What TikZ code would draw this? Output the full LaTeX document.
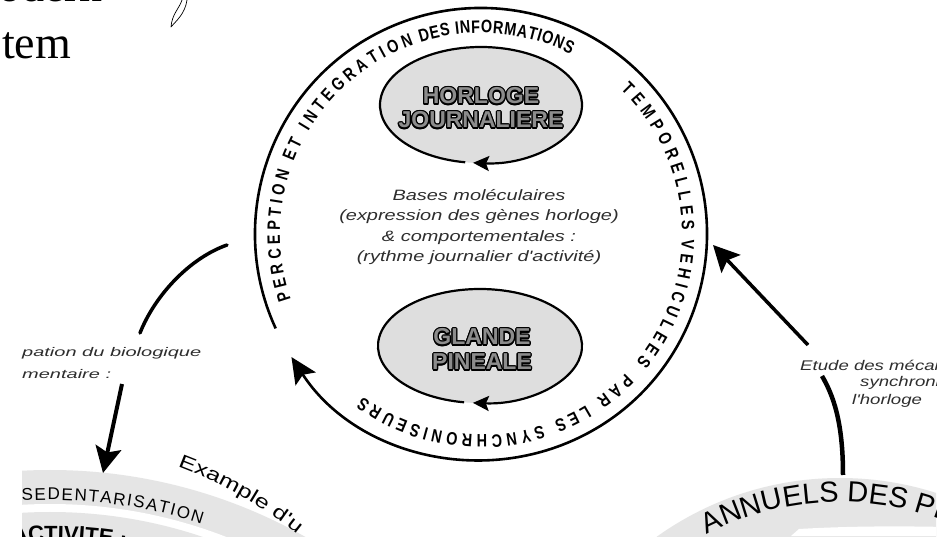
\documentclass[tikz,border=0pt]{standalone}
\usepackage{fontspec}
\setmainfont{Liberation Sans}
\newfontfamily\serifF{Liberation Serif}
\newfontfamily\ringF[FakeStretch=0.8]{Liberation Sans}
\newfontfamily\wideF[FakeStretch=1.33]{Liberation Sans}
\newfontfamily\lblF[FakeStretch=1.6]{Liberation Sans}
\usetikzlibrary{arrows.meta,decorations.text,shapes.geometric}

\definecolor{ellfill}{gray}{0.87}
\definecolor{bandfill}{gray}{0.9}
\definecolor{txtgray}{gray}{0.18}

\newcommand\ringfont{\ringF\bfseries\fontsize{18}{18}\selectfont}
\newcommand\arctext[6]{%
  \path[decorate,decoration={text along path,text align={fit to path},text={|#5|#6}}]
    ([shift={(#3:#2)}]#1) arc[start angle=#3,end angle=#4,radius=#2];}
\newcommand\arctextL[6]{%
  \path[decorate,decoration={text along path,text align={left},text={|#5|#6}}]
    ([shift={(#3:#2)}]#1) arc[start angle=#3,end angle=#4,radius=#2];}

\tikzset{
  ringline/.style={line width=2.6pt,draw=black},
  ellipseline/.style={line width=2.2pt,draw=black},
  smallarrow/.style={-{Stealth[length=16pt,width=15pt,inset=3pt]}},
  bigarrow/.style={line width=4pt,-{Stealth[length=26pt,width=26pt,inset=5pt]}},
  ellbox/.style={ellipse,fill=ellfill,inner sep=0pt},
  emboss/.style={font=\bfseries\fontsize{23}{23}\selectfont,inner sep=0pt},
  midtext/.style={font=\wideF\itshape\fontsize{15}{20.5}\selectfont,text=txtgray,align=center,inner sep=0pt},
  rlbl/.style={font=\wideF\itshape\fontsize{14}{14}\selectfont,text=txtgray,inner sep=0pt},
  lbl/.style={font=\lblF\itshape\fontsize{12.5}{12.5}\selectfont,text=txtgray,inner sep=0pt},
  serifbig/.style={font=\serifF\fontsize{46}{46}\selectfont,inner sep=0pt},
}

\newcommand\outlined[3]{%
  \foreach \ang in {0,30,...,330}{\node[emboss,text=black,shift={(\ang:1.3pt)}] (#1-\ang) at (#2) {#3};}
  \node[emboss,text=black!45] (#1) at (#2) {#3};}

\begin{document}
\begin{tikzpicture}[x=1pt,y=1pt]
\useasboundingbox (0,0) rectangle (946,536);
\fill[white] (0,0) rectangle (946,536);
\clip (0,0) rectangle (946,536);

\coordinate (C) at (481,302);
\coordinate (LB) at (50,-454);
\coordinate (EX) at (27,-333);
\coordinate (RB) at (840,-257);

% ---- lower left bands
\begin{scope}
  \clip (22,0) rectangle (420,536);
  \fill[bandfill] (LB) circle[radius=520];
  \fill[white] (LB) circle[radius=486];
  \fill[bandfill] (LB) circle[radius=478];
  \arctext{LB}{490}{93.3}{72}{\fontsize{17}{17}\selectfont}{SEDENTARISATION}
  \arctextL{LB}{449}{94.8}{70}{\bfseries\fontsize{22}{22}\selectfont}{ACTIVITE :}
\end{scope}
\arctextL{EX}{430}{69.5}{40}{\wideF\fontsize{19}{19}\selectfont}{Example d'u}

% ---- lower right band and right labels (figure cut at x = 936)
\begin{scope}
  \clip (0,0) rectangle (936,536);
  \fill[bandfill] (RB) circle[radius=315];
  \fill[white] (791,0) -- (799,7) .. controls (850,10) and (900,10) .. (946,9) -- (946,0) -- cycle;
  \arctextL{RB}{291}{117.2}{50}{\fontsize{29}{29}\selectfont}{ANNUELS DES PLANTES}
  \node[rlbl,anchor=base west] (etude1) at (800,165) {Etude des mécanismes};
  \node[rlbl,anchor=base west] (etude2) at (860,149) {synchronisation};
  \node[rlbl,anchor=base west] (etude3) at (852,131) {l'horloge};
\end{scope}

% ---- ellipses
\node[ellbox,minimum width=202pt,minimum height=116pt] (horloge) at (481,431) {};
\draw[ellipseline,smallarrow] ([shift={(261:101 and 58)}]horloge.center)
  arc[start angle=261,end angle=-94.5,x radius=101,y radius=58];
\outlined{horlogeA}{481,440}{HORLOGE}
\outlined{horlogeB}{481,416}{JOURNALIERE}

\node[ellbox,minimum width=204pt,minimum height=114pt] (glande) at (480,190) {};
\draw[ellipseline,smallarrow] ([shift={(261:102 and 57)}]glande.center)
  arc[start angle=261,end angle=-94,x radius=102,y radius=57];
\outlined{glandeA}{482,199}{GLANDE}
\outlined{glandeB}{482,174}{PINEALE}

\node[midtext] (bases) at (479,309) {Bases moléculaires\\(expression des gènes horloge)\\\& comportementales :\\(rythme journalier d'activité)};

% ---- big ring
\draw[ringline,-{Stealth[length=26pt,width=24pt,inset=5pt]}] ([shift={(204.7:226)}]C)
  arc[start angle=204.7,end angle=-147,radius=226];
\arctext{C}{201}{199}{162}{\ringfont}{PERCEPTION}
\arctext{C}{201}{159}{109.5}{\ringfont}{ET INTEGRATION}
\arctext{C}{201}{107.5}{63.5}{\ringfont}{DES INFORMATIONS}
\arctext{C}{201}{46}{1}{\ringfont}{TEMPORELLES}
\arctext{C}{201}{-1.5}{-39.5}{\ringfont}{VEHICULEES}
\arctext{C}{201}{-44}{-126}{\ringfont}{PAR LES SYNCHRONISEURS}

% ---- left connectors
\coordinate (lcA) at (227,291);
\coordinate (lcB) at (140,203);
\draw[line width=3.5pt,line cap=round] (lcA) .. controls (190,278) and (155,241) .. (lcB);
\node[lbl,anchor=base west] (adapt1) at (22,179) {pation du biologique};
\node[lbl,anchor=base west] (adapt2) at (22,157) {mentaire :};
\coordinate (laA) at (122,152);
\coordinate (laB) at (103,63);
\draw[bigarrow] (laA) -- (laB);

% ---- right connectors
\coordinate (raA) at (808,191);
\coordinate (raB) at (713,291);
\draw[bigarrow,line width=3.5pt] (raA) -- (raB);
\coordinate (rcA) at (822,160);
\coordinate (rcB) at (843,61);
\draw[line width=4.5pt] (rcA) .. controls (833,141) and (843,115) .. (rcB);

% ---- top left fragments
\node[serifbig,anchor=base east] (topword) at (103,534.5) {modern};
\node[serifbig,anchor=base west] (tem) at (2,477) {tem};
\draw[line width=0.7pt,line join=round] (182,536) .. controls (179,527) and (172,522) .. (171,509)
  .. controls (176,515) and (185,522) .. (187,536);
\end{tikzpicture}
\end{document}
